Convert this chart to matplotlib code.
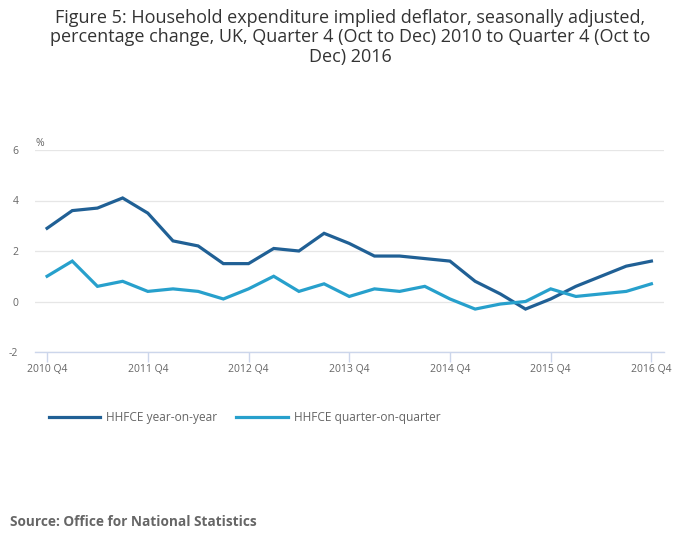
import matplotlib
matplotlib.use("Agg")
import matplotlib.pyplot as plt
from matplotlib.lines import Line2D

# quarters from 2010 Q4 to 2016 Q4
quarters = [f"{2010 + (i + 3) // 4} Q{(i + 3) % 4 + 1}" for i in range(25)]
year_on_year = [2.9, 3.6, 3.7, 4.1, 3.5, 2.4, 2.2, 1.5, 1.5, 2.1, 2.0, 2.7, 2.3,
                1.8, 1.8, 1.7, 1.6, 0.8, 0.3, -0.3, 0.1, 0.6, 1.0, 1.4, 1.6]
quarter_on_quarter = [1.0, 1.6, 0.6, 0.8, 0.4, 0.5, 0.4, 0.1, 0.5, 1.0, 0.4, 0.7, 0.2,
                      0.5, 0.4, 0.6, 0.1, -0.3, -0.1, 0.0, 0.5, 0.2, 0.3, 0.4, 0.7]
tick_labels = ["2010 Q4", "2011 Q4", "2012 Q4", "2013 Q4", "2014 Q4", "2015 Q4", "2016 Q4"]
y_ticks = [-2, 0, 2, 4, 6]

dark = "#206095"
light = "#27a0cc"

plt.rcParams["font.family"] = ["Open Sans", "DejaVu Sans"]

fig = plt.figure(figsize=(7, 5.49), dpi=100)
ax = fig.add_axes([35 / 700, 1 - 352 / 549, 629 / 700, 202 / 549])

x = list(range(len(quarters)))
ax.plot(x, year_on_year, color=dark, lw=2.3, solid_joinstyle="miter")
ax.plot(x, quarter_on_quarter, color=light, lw=2.3, solid_joinstyle="miter")

ax.set_xlim(-0.48, 24.5)
ax.set_ylim(-2, 6)
ax.set_yticks(y_ticks)
ax.set_yticklabels([str(v) for v in y_ticks])
ax.set_xticks([quarters.index(t) for t in tick_labels])
ax.set_xticklabels(tick_labels)

ax.grid(axis="y", color="#e6e6e6", lw=0.9)
ax.set_axisbelow(True)
for side in ["top", "right", "left"]:
    ax.spines[side].set_visible(False)
ax.spines["bottom"].set_color("#ccd6eb")
ax.spines["bottom"].set_linewidth(1)
ax.tick_params(axis="y", length=0, pad=12, labelsize=7.5, labelcolor="#666666")
ax.tick_params(axis="x", length=7, color="#ccd6eb", width=1, pad=2,
               labelsize=7.5, labelcolor="#666666")

ax.text(0, 1.005, "%", transform=ax.transAxes, fontsize=7.5, color="#666666",
        ha="left", va="bottom")

fig.text(0.5, 1 - 9 / 549,
         "Figure 5: Household expenditure implied deflator, seasonally adjusted,\n"
         "percentage change, UK, Quarter 4 (Oct to Dec) 2010 to Quarter 4 (Oct to\n"
         "Dec) 2016",
         ha="center", va="top", fontsize=13, color="#333333", linespacing=1.1)

handles = [Line2D([], [], color=dark, lw=2.3), Line2D([], [], color=light, lw=2.3)]
fig.legend(handles, ["HHFCE year-on-year", "HHFCE quarter-on-quarter"],
           loc="center left", bbox_to_anchor=(38 / 700, 1 - 418 / 549), ncol=2,
           frameon=False, fontsize=8.6, labelcolor="#666666",
           handlelength=4.3, handletextpad=0.5, columnspacing=1.6)

fig.text(10 / 700, 1 - 522 / 549, "Source: Office for National Statistics",
         fontsize=9.8, fontweight="bold", color="#666666", ha="left", va="center")

fig.savefig("out.png", dpi=100)
